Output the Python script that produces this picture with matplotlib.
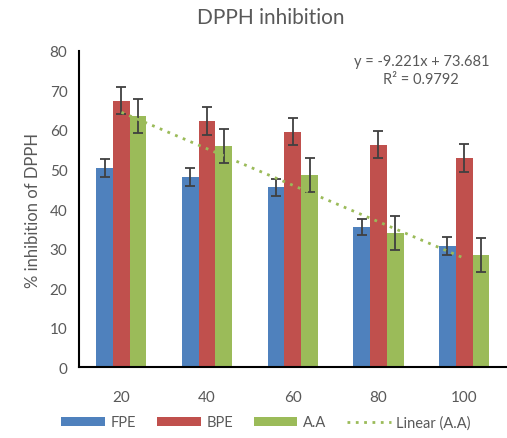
import numpy as np
import matplotlib
matplotlib.use("Agg")
import matplotlib.pyplot as plt

plt.rcParams['font.family'] = ['Lato', 'DejaVu Sans']

# concentrations and % inhibition
conc = ["20", "40", "60", "80", "100"]
fpe = [50.4, 48.1, 45.5, 35.4, 30.7]
fpe_err = [2.3, 2.3, 2.1, 2.0, 2.2]
bpe = [67.4, 62.3, 59.6, 56.3, 52.9]
bpe_err = [3.4, 3.6, 3.5, 3.5, 3.5]
aa = [63.6, 56.0, 48.6, 33.9, 28.4]
aa_err = [4.3, 4.3, 4.4, 4.3, 4.3]
# excel linear trendline for A.A (x = 1..5)
slope, intercept = -9.221, 73.681

gray = "#595959"
fig = plt.figure(figsize=(5.07, 4.39), dpi=100)
ax = fig.add_axes([0.155, 0.161, 0.845, 0.721])

x = np.arange(len(conc))
w = 0.195
ekw = dict(ecolor="#404040", elinewidth=1.3, capsize=3.5, capthick=1.3)
b1 = ax.bar(x - w, fpe, w, yerr=fpe_err, color="#4F81BD", label="FPE", error_kw=ekw)
b2 = ax.bar(x, bpe, w, yerr=bpe_err, color="#C0504D", label="BPE", error_kw=ekw)
b3 = ax.bar(x + w, aa, w, yerr=aa_err, color="#9BBB59", label="A.A", error_kw=ekw)

trend = slope * (x + 1) + intercept
ln, = ax.plot(x, trend, linestyle=(0, (1, 2)), color="#9BBB59", lw=2, label="Linear (A.A)")

ax.set_xlim(-0.5, 4.5)
ax.set_ylim(0, 80)
ax.set_yticks(range(0, 81, 10))
ax.set_xticks(x)
ax.set_xticklabels(conc)
ax.tick_params(length=0, labelsize=11, colors=gray, pad=8)
ax.tick_params(axis='x', pad=16)
for s in ["top", "right"]:
    ax.spines[s].set_visible(False)
for s in ["left", "bottom"]:
    ax.spines[s].set_linewidth(1.5)
ax.set_ylabel("% inhibition of DPPH", fontsize=12, color=gray, labelpad=6)

fig.text(0.535, 0.96, "DPPH inhibition", ha="center", va="center", fontsize=15, color=gray)
ax.text(0.80, 0.94, "y = -9.221x + 73.681\nR² = 0.9792", transform=ax.transAxes,
        ha="center", va="center", fontsize=10.5, color=gray, linespacing=1.35)

fig.legend(handles=[b1, b2, b3, ln], loc="center", bbox_to_anchor=(0.525, 0.036),
           ncol=4, frameon=False, fontsize=10.5, labelcolor=gray, handlelength=3.0,
           columnspacing=1.4, handletextpad=0.4, handleheight=0.55)

fig.savefig("out.png", dpi=100)
